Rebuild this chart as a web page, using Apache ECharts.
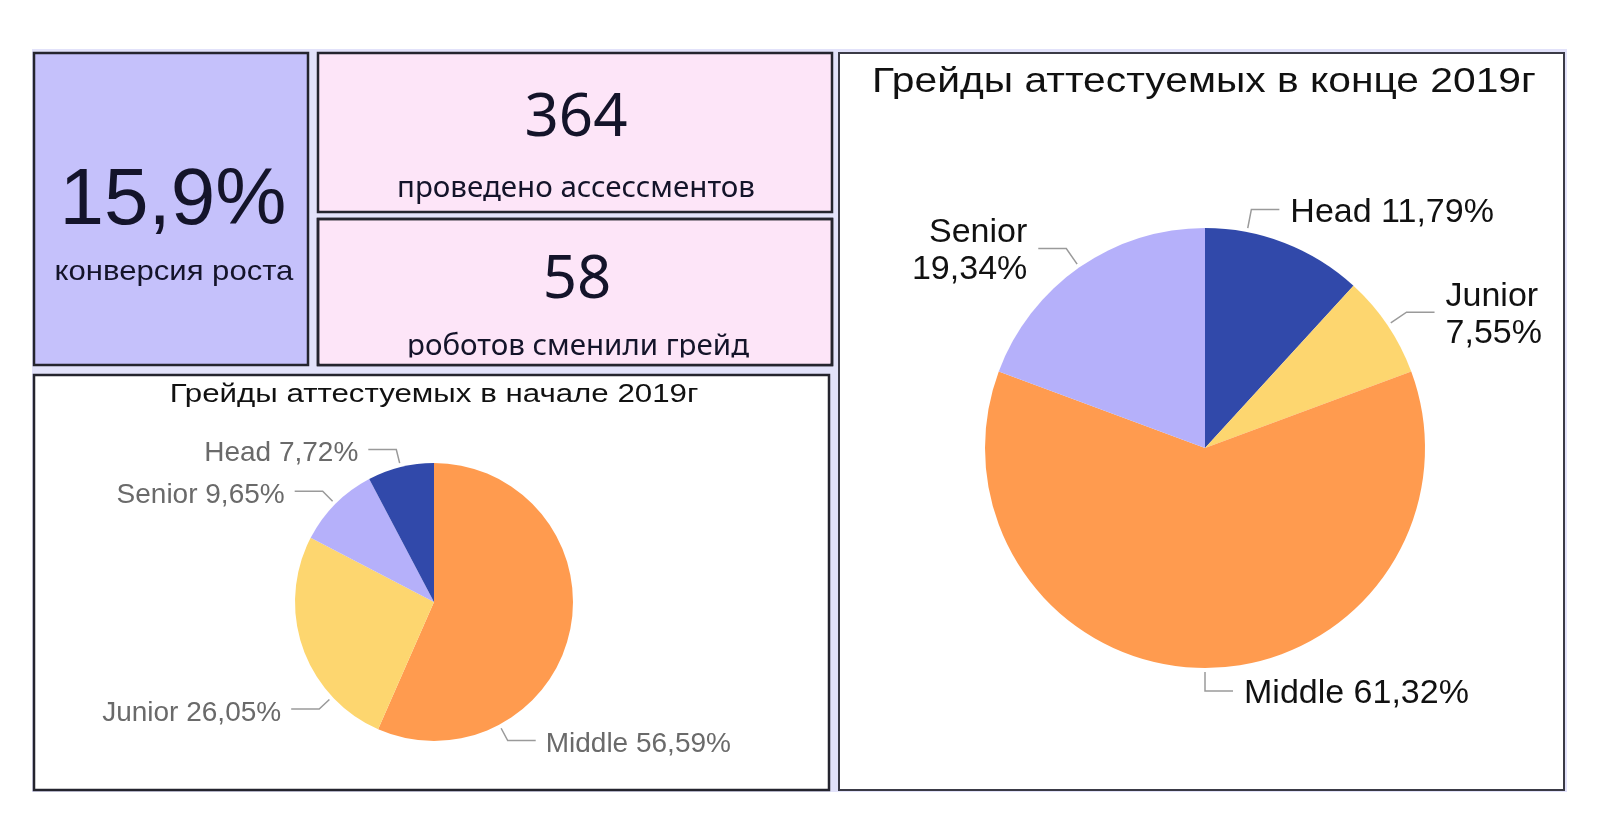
<!DOCTYPE html>
<html>
<head>
<meta charset="utf-8">
<script src="https://cdn.jsdelivr.net/npm/echarts@6/dist/echarts.min.js"></script>
<style>
  html, body { margin: 0; padding: 0; background: #ffffff; }
  #chart { width: 1600px; height: 840px; }
</style>
</head>
<body>
<div id="chart"></div>
<script>
// ---------------- DATA ----------------
const kpiValues = ['15,9%', '364', '58'];
const kpiCaptions = ['конверсия роста', 'проведено ассессментов', 'роботов сменили грейд'];

const startTitle = 'Грейды аттестуемых в начале 2019г';
const startGrades = ['Middle', 'Junior', 'Senior', 'Head'];
const startShares = [56.59, 26.05, 9.65, 7.72];

const endTitle = 'Грейды аттестуемых в конце 2019г';
const endGrades = ['Head', 'Junior', 'Middle', 'Senior'];
const endShares = [11.79, 7.55, 61.32, 19.34];

// ---------------- STYLE / LAYOUT ----------------
const gradeColors = { Head: '#3149AA', Junior: '#FDD66F', Middle: '#FF9B4F', Senior: '#B5B0FA' };
const SANS = '"Liberation Sans", Arial, sans-serif';
const NOTO = '"Noto Sans", "Liberation Sans", sans-serif';
const BORDER = '#24242e';

const leftPie = { cx: 434, cy: 602, r: 139, offset: 4, len: 14, len2: 28, gap: 10, dy: 4,
                  angleOverride: { Middle: 152, Junior: 227 } };
const rightPie = { cx: 1205, cy: 448, r: 220, offset: 4, len: 19, len2: 28, gap: 11, dy: 3,
                   angleOverride: { Head: 11 } };
const wrapEnd = ['Senior', 'Junior'];

function fmtPct(v) { return v.toFixed(2).replace('.', ',') + '%'; }

function makeLayout(cfg, names, shares) {
  const total = shares.reduce((a, b) => a + b, 0);
  const mids = [];
  let acc = 0;
  shares.forEach(v => { mids.push((acc + v / 2) / total * 360); acc += v; });
  return function (p) {
    const i = p.dataIndex;
    const ov = cfg.angleOverride[names[i]];
    const ang = (ov != null ? ov : mids[i]) * Math.PI / 180;
    const ux = Math.sin(ang), uy = -Math.cos(ang);
    const r0 = cfg.r + cfg.offset;
    const p0 = [cfg.cx + ux * r0, cfg.cy + uy * r0];
    const p1 = [cfg.cx + ux * (r0 + cfg.len), cfg.cy + uy * (r0 + cfg.len)];
    const dir = ux >= -1e-9 ? 1 : -1;
    const p2 = [p1[0] + dir * cfg.len2, p1[1]];
    return {
      x: p2[0] + dir * cfg.gap,
      y: p2[1] + cfg.dy,
      align: dir > 0 ? 'left' : 'right',
      verticalAlign: 'middle',
      labelLinePoints: [p0, p1, p2]
    };
  };
}

function pieData(names, shares) {
  return names.map((n, i) => ({ name: n, value: shares[i], itemStyle: { color: gradeColors[n] } }));
}

function box(x1, y1, x2, y2, fill, stroke, lw) {
  return { type: 'rect', silent: true,
           shape: { x: x1, y: y1, width: x2 - x1, height: y2 - y1 },
           style: { fill: fill, stroke: stroke, lineWidth: lw } };
}
function txt(x, y, text, size, family, color, sx) {
  return { type: 'text', silent: true, x: x, y: y, scaleX: sx || 1,
           style: { text: text, font: size + 'px ' + family, fill: color,
                    textAlign: 'center', textVerticalAlign: 'middle' } };
}

const graphics = [
  box(32, 49, 1567, 792, '#E2E2FA', null, 0),
  box(34, 53, 308, 365, '#C5C1FB', BORDER, 2.5),
  box(318, 53, 832, 212, '#FDE5F8', BORDER, 2.5),
  box(318, 219, 832, 365, '#FDE5F8', BORDER, 2.5),
  box(34, 375, 829, 790, '#FFFFFF', BORDER, 2.5),
  box(839, 53, 1564, 790, '#FFFFFF', '#3a3a46', 2),

  txt(173, 202, kpiValues[0], 80, SANS, '#14142a'),
  txt(174, 272, kpiCaptions[0], 28, SANS, '#14142a', 1.11),
  txt(576, 119, kpiValues[1], 60, NOTO, '#14142a'),
  txt(576, 189, kpiCaptions[1], 29.5, NOTO, '#14142a'),
  txt(577, 281, kpiValues[2], 60, NOTO, '#14142a'),
  txt(578, 347, kpiCaptions[2], 29.5, NOTO, '#14142a'),
  // clip the caption at the bottom padding of its box
  { type: 'rect', silent: true, shape: { x: 320, y: 357.5, width: 510, height: 6.5 }, style: { fill: '#FDE5F8' } },
  { type: 'rect', silent: true, shape: { x: 318, y: 219, width: 514, height: 146 }, style: { fill: null, stroke: BORDER, lineWidth: 2.5 } },

  txt(434, 395, startTitle, 26.5, SANS, '#111111', 1.18),
  txt(1204, 82, endTitle, 35, SANS, '#111111', 1.165)
];

const chart = echarts.init(document.getElementById('chart'), null, { renderer: 'canvas' });
chart.setOption({
  animation: false,
  backgroundColor: '#ffffff',
  graphic: { elements: graphics },
  series: [
    {
      type: 'pie',
      center: [leftPie.cx, leftPie.cy],
      radius: leftPie.r,
      startAngle: 90,
      clockwise: true,
      avoidLabelOverlap: false,
      silent: true,
      data: pieData(startGrades, startShares),
      itemStyle: { borderWidth: 0 },
      label: {
        show: true, position: 'outside',
        formatter: p => p.name + ' ' + fmtPct(p.value),
        fontFamily: SANS, fontSize: 28, color: '#6a6a6a'
      },
      labelLine: { show: true, lineStyle: { color: '#9a9a9a', width: 1.5 } },
      labelLayout: makeLayout(leftPie, startGrades, startShares)
    },
    {
      type: 'pie',
      center: [rightPie.cx, rightPie.cy],
      radius: rightPie.r,
      startAngle: 90,
      clockwise: true,
      avoidLabelOverlap: false,
      silent: true,
      data: pieData(endGrades, endShares),
      itemStyle: { borderWidth: 0 },
      label: {
        show: true, position: 'outside',
        formatter: p => p.name + (wrapEnd.indexOf(p.name) >= 0 ? '\n' : ' ') + fmtPct(p.value),
        fontFamily: SANS, fontSize: 34, lineHeight: 37, color: '#111111'
      },
      labelLine: { show: true, lineStyle: { color: '#9a9a9a', width: 1.5 } },
      labelLayout: makeLayout(rightPie, endGrades, endShares)
    }
  ]
});
</script>
</body>
</html>
